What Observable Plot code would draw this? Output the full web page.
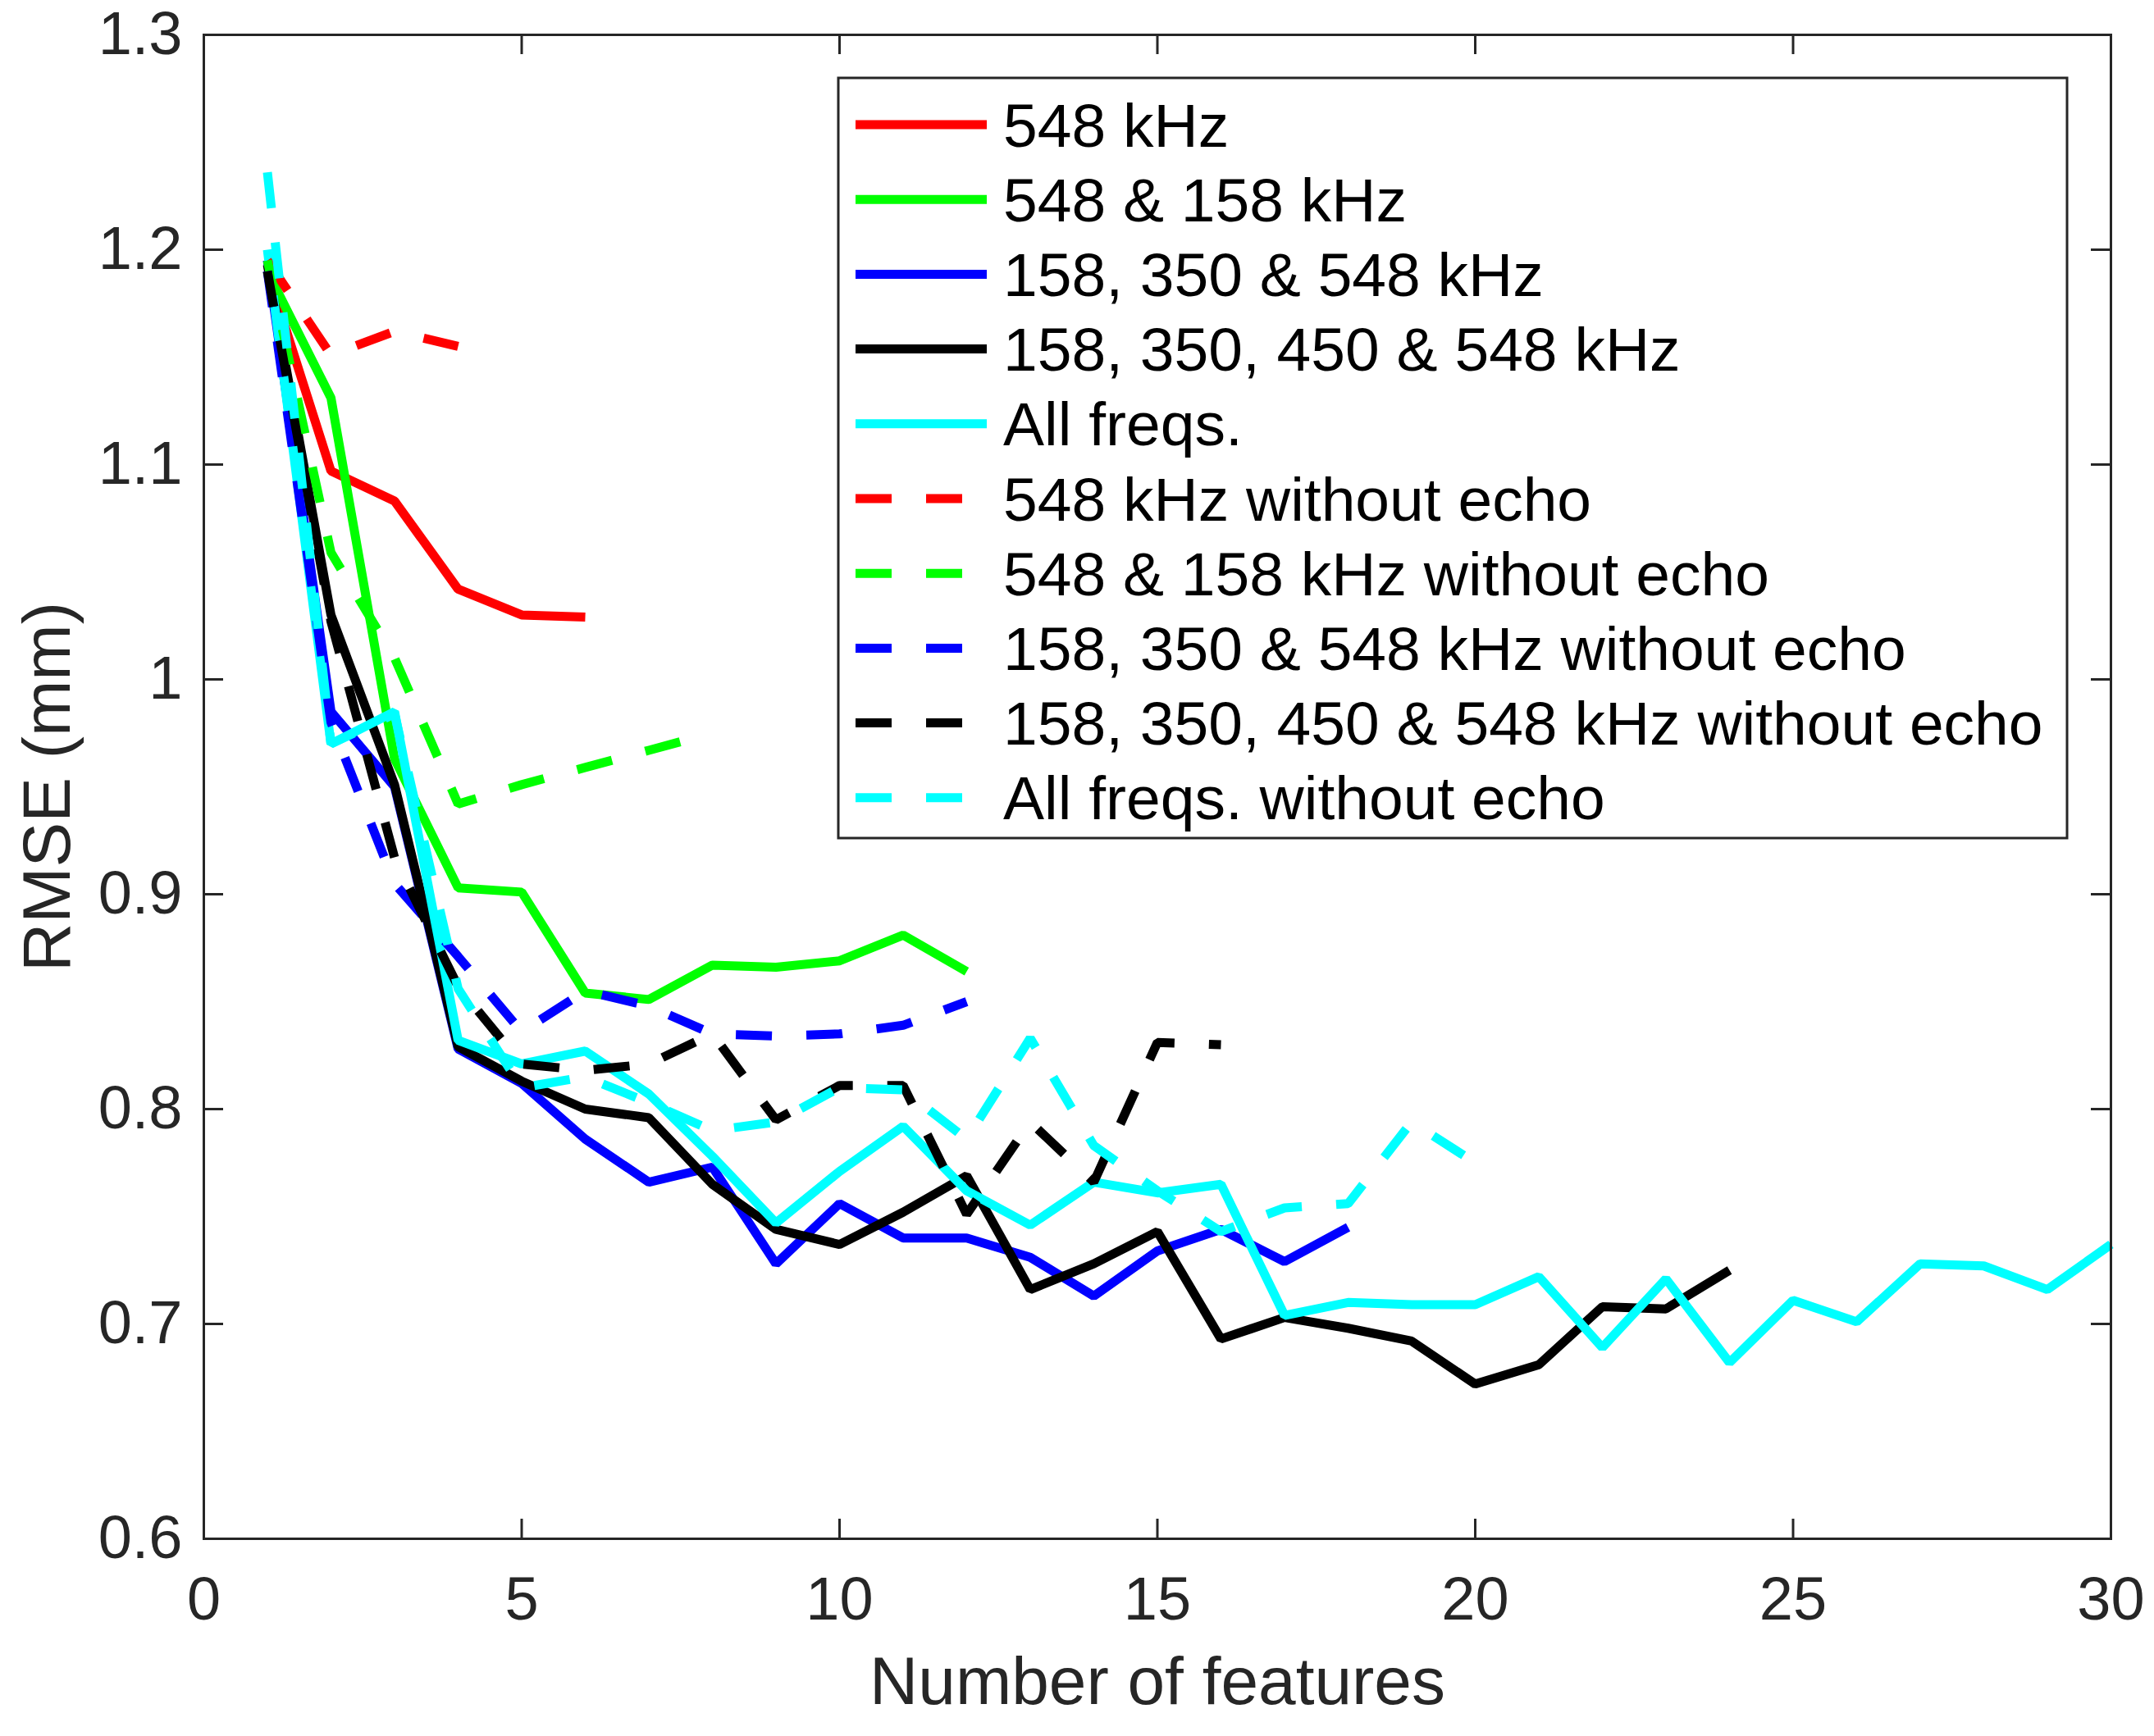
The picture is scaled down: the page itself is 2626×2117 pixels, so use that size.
<!DOCTYPE html>
<html>
<head>
<meta charset="utf-8">
<script src="https://cdn.jsdelivr.net/npm/d3@7"></script>
<script src="https://cdn.jsdelivr.net/npm/@observablehq/plot@0.6"></script>
<style>
  html, body { margin: 0; padding: 0; background: #fff; }
  #chart svg { display: block; }
</style>
</head>
<body>
<div id="chart"></div>
<script>
// ---- Data (RMSE in mm vs number of features) ----
const rmse548 = [1.19, 1.097, 1.083, 1.042, 1.030, 1.029];
const rmse548_158 = [1.19, 1.131, 0.963, 0.903, 0.901, 0.854, 0.851, 0.867, 0.866, 0.869, 0.881, 0.864];
const rmse158_350_548 = [1.195, 0.985, 0.950, 0.828, 0.812, 0.786, 0.766, 0.773, 0.728, 0.756, 0.740, 0.740, 0.731, 0.713, 0.734, 0.744, 0.729, 0.745];
const rmse158_350_450_548 = [1.193, 1.030, 0.951, 0.829, 0.813, 0.800, 0.796, 0.765, 0.744, 0.737, 0.752, 0.769, 0.716, 0.728, 0.743, 0.693, 0.703, 0.698, 0.692, 0.672, 0.681, 0.708, 0.707, 0.725];
const rmseAll = [1.200, 0.970, 0.985, 0.832, 0.821, 0.827, 0.807, 0.778, 0.747, 0.771, 0.792, 0.762, 0.746, 0.766, 0.761, 0.765, 0.704, 0.710, 0.709, 0.709, 0.722, 0.689, 0.721, 0.682, 0.711, 0.701, 0.728, 0.727, 0.716, 0.737];
const rmse548NoEcho = [1.195, 1.151, 1.162, 1.155];
const rmse548_158NoEcho = [1.195, 1.059, 1.010, 0.942, 0.951, 0.959, 0.967, 0.975];
const rmse158_350_548NoEcho = [1.19, 0.980, 0.905, 0.871, 0.836, 0.855, 0.848, 0.835, 0.834, 0.835, 0.839, 0.850];
const rmse158_350_450_548NoEcho = [1.19, 1.027, 0.917, 0.857, 0.821, 0.818, 0.821, 0.835, 0.795, 0.811, 0.811, 0.751, 0.794, 0.766, 0.831, 0.830];
const rmseAllNoEcho = [1.236, 0.970, 0.984, 0.856, 0.810, 0.815, 0.803, 0.790, 0.794, 0.810, 0.809, 0.786, 0.833, 0.783, 0.762, 0.743, 0.754, 0.756, 0.794, 0.775];

const seriesNames = [
  "548 kHz", "548 & 158 kHz", "158, 350 & 548 kHz", "158, 350, 450 & 548 kHz", "All freqs.",
  "548 kHz without echo", "548 & 158 kHz without echo", "158, 350 & 548 kHz without echo",
  "158, 350, 450 & 548 kHz without echo", "All freqs. without echo"
];
const seriesValues = [
  rmse548, rmse548_158, rmse158_350_548, rmse158_350_450_548, rmseAll,
  rmse548NoEcho, rmse548_158NoEcho, rmse158_350_548NoEcho, rmse158_350_450_548NoEcho, rmseAllNoEcho
];
const seriesColors = ["#ff0000", "#00ff00", "#0000ff", "#000000", "#00ffff",
                      "#ff0000", "#00ff00", "#0000ff", "#000000", "#00ffff"];
const seriesDashed = [false, false, false, false, false, true, true, true, true, true];

const xTicks = [0, 5, 10, 15, 20, 25, 30];
const yTicks = [0.6, 0.7, 0.8, 0.9, 1.0, 1.1, 1.2, 1.3];
const yTickLabels = ["0.6", "0.7", "0.8", "0.9", "1", "1.1", "1.2", "1.3"];

// ---- Layout ----
const W = 2626, H = 2117;
const mL = 248, mR = 53, mT = 42, mB = 241;
const frameW = W - mL - mR, frameH = H - mT - mB;
const axisColor = "#262626";
const font = "'Liberation Sans', Arial, Helvetica, sans-serif";
const lineW = 11;
const dash = "44,42";
const tickLen = 24;

const lineMarks = seriesValues.map((vals, k) =>
  Plot.lineY(vals, {
    x: (d, i) => i + 1,
    y: d => d,
    stroke: seriesColors[k],
    strokeWidth: lineW,
    strokeDasharray: seriesDashed[k] ? dash : null,
    strokeLinecap: "butt",
    strokeLinejoin: "miter"
  })
);

const chart = Plot.plot({
  width: W,
  height: H,
  marginLeft: mL,
  marginRight: mR,
  marginTop: mT,
  marginBottom: mB,
  style: {fontFamily: font, background: "#fff", overflow: "visible"},
  x: {domain: [0, 30], axis: null},
  y: {domain: [0.6, 1.3], axis: null},
  marks: [
    ...lineMarks,
    Plot.frame({stroke: axisColor, strokeWidth: 3}),
    // inward ticks on all four sides
    Plot.tickX(xTicks, {x: d => d, stroke: axisColor, strokeWidth: 3, insetTop: frameH - tickLen}),
    Plot.tickX(xTicks, {x: d => d, stroke: axisColor, strokeWidth: 3, insetBottom: frameH - tickLen}),
    Plot.tickY(yTicks, {y: d => d, stroke: axisColor, strokeWidth: 3, insetRight: frameW - tickLen}),
    Plot.tickY(yTicks, {y: d => d, stroke: axisColor, strokeWidth: 3, insetLeft: frameW - tickLen}),
    Plot.axisX(xTicks, {tickSize: 0, tickPadding: 46, fontSize: 74, fill: axisColor, label: null}),
    Plot.axisY(yTicks, {tickSize: 0, tickPadding: 26, fontSize: 74, fill: axisColor, label: null,
      tickFormat: d => yTickLabels[yTicks.indexOf(d)]}),
    Plot.text(["Number of features"], {frameAnchor: "bottom", dy: 201, lineAnchor: "bottom",
      fontSize: 82, fill: axisColor, text: d => d}),
    Plot.text(["RMSE (mm)"], {frameAnchor: "left", dx: -164, lineAnchor: "bottom", rotate: -90,
      fontSize: 82, fill: axisColor, text: d => d, textAnchor: "middle"})
  ]
});

document.getElementById("chart").appendChild(chart);

// ---- Legend (drawn into the same SVG) ----
const svg = d3.select(chart);
const lg = svg.append("g").attr("class", "legend");
const box = {x: 1022, y: 95, w: 1498, h: 927};
lg.append("rect")
  .attr("x", box.x).attr("y", box.y).attr("width", box.w).attr("height", box.h)
  .attr("fill", "#fff").attr("stroke", axisColor).attr("stroke-width", 3);
const rowY0 = 152, rowStep = 91.2, lx0 = 1043, lx1 = 1203, tx = 1223;
seriesNames.forEach((name, k) => {
  const y = rowY0 + k * rowStep;
  lg.append("line")
    .attr("x1", lx0).attr("x2", lx1).attr("y1", y).attr("y2", y)
    .attr("stroke", seriesColors[k]).attr("stroke-width", lineW)
    .attr("stroke-dasharray", seriesDashed[k] ? dash : null);
  lg.append("text")
    .attr("x", tx).attr("y", y).attr("dy", "0.355em")
    .attr("text-anchor", "start")
    .attr("font-family", font).attr("font-size", 75).attr("fill", "#000")
    .text(name);
});
</script>
</body>
</html>
